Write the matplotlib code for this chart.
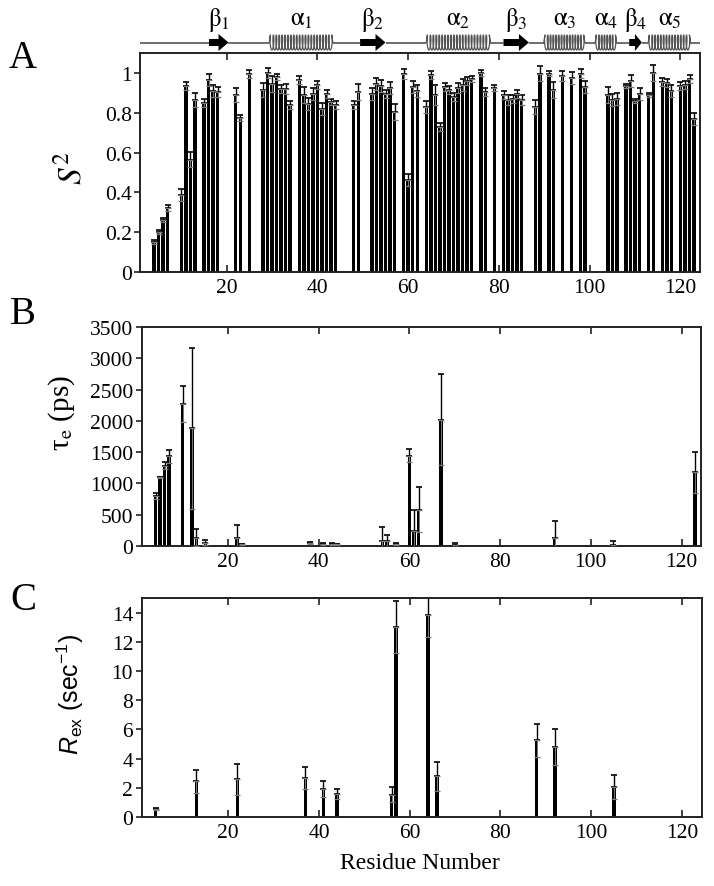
import matplotlib
matplotlib.use("Agg")
import matplotlib.pyplot as plt
import numpy as np
from matplotlib.patches import Polygon
from matplotlib.ticker import FormatStrFormatter

plt.rcParams['font.family'] = ['Liberation Serif', 'DejaVu Serif']
plt.rcParams['mathtext.fontset'] = 'stix'
plt.rcParams['mathtext.rm'] = 'Liberation Sans'
plt.rcParams['mathtext.it'] = 'Liberation Sans:italic'
plt.rcParams['mathtext.bf'] = 'Liberation Sans:bold'

# ---------------- data ----------------
# Panel A: order parameter S^2
s2_res = [4, 5, 6, 7, 10, 11, 12, 13, 15, 16, 17, 18, 22, 23, 25, 28, 29, 30, 31, 32,
          33, 34, 36, 37, 38, 39, 40, 41, 42, 43, 44, 48, 49, 52, 53, 54, 55, 56, 57, 59,
          60, 61, 62, 64, 65, 66, 67, 68, 69, 70, 71, 72, 73, 74, 76, 77, 79, 81, 82, 83,
          84, 85, 88, 89, 91, 92, 94, 96, 98, 99, 104, 105, 106, 108, 109, 110, 111, 113, 114, 116,
          117, 118, 120, 121, 122, 123]
s2_val = [0.15, 0.20, 0.26, 0.32, 0.385, 0.935, 0.565, 0.866, 0.85, 0.966, 0.91, 0.905, 0.89, 0.774, 0.995, 0.916, 1.0, 0.946, 0.98, 0.92,
          0.92, 0.837, 0.962, 0.887, 0.846, 0.896, 0.938, 0.82, 0.896, 0.854, 0.837, 0.837, 0.904, 0.896, 0.943, 0.933, 0.896, 0.925, 0.804, 0.995,
          0.46, 0.93, 0.908, 0.83, 0.99, 0.887, 0.729, 0.93, 0.913, 0.88, 0.925, 0.941, 0.96, 0.968, 1.0, 0.904, 0.925, 0.887, 0.862, 0.87,
          0.896, 0.862, 0.83, 0.997, 0.997, 0.913, 0.983, 0.976, 0.997, 0.93, 0.887, 0.862, 0.87, 0.935, 0.958, 0.859, 0.893, 0.887, 1.0, 0.955,
          0.95, 0.908, 0.935, 0.941, 0.971, 0.77]
s2_err = [0.01, 0.01, 0.01, 0.015, 0.03, 0.02, 0.04, 0.035, 0.02, 0.03, 0.03, 0.025, 0.035, 0.015, 0.02, 0.035, 0.025, 0.04, 0.015, 0.02,
          0.025, 0.02, 0.02, 0.04, 0.03, 0.03, 0.02, 0.03, 0.02, 0.015, 0.02, 0.02, 0.04, 0.03, 0.03, 0.03, 0.02, 0.03, 0.04, 0.025,
          0.03, 0.03, 0.03, 0.03, 0.02, 0.05, 0.02, 0.02, 0.02, 0.02, 0.025, 0.03, 0.02, 0.015, 0.015, 0.02, 0.015, 0.02, 0.025, 0.02,
          0.02, 0.025, 0.035, 0.04, 0.015, 0.04, 0.025, 0.03, 0.025, 0.03, 0.04, 0.03, 0.03, 0.01, 0.03, 0.01, 0.03, 0.01, 0.04, 0.02,
          0.02, 0.03, 0.02, 0.02, 0.02, 0.03]

# Panel B: tau_e (ps)
te_res = [4, 5, 6, 7, 10, 12, 13, 15, 22, 23, 38, 41, 43, 44, 54, 55, 57, 60, 61, 62, 67, 70, 92, 105, 123]
te_val = [800, 1095, 1282, 1432, 2271, 1881, 134, 53, 134, 27, 50, 30, 30, 25, 80, 80, 25, 1443, 240, 577, 2020, 20, 134, 20, 1176]
te_err = [55, 10, 54, 102, 294, 1282, 133, 38, 203, 5, 20, 10, 10, 10, 225, 96, 15, 107, 337, 358, 721, 33, 261, 60, 331]

# Panel C: R_ex (sec^-1)
rex_res = [4, 13, 22, 37, 41, 44, 56, 57, 64, 66, 88, 92, 105]
rex_val = [0.55, 2.44, 2.58, 2.67, 1.9, 1.6, 1.53, 13.0, 13.86, 2.79, 5.25, 4.82, 2.05]
rex_err = [0.07, 0.8, 1.05, 0.75, 0.54, 0.34, 0.5, 1.77, 1.5, 0.98, 1.14, 1.23, 0.85]

# Secondary structure
ss_type = ['b', 'a', 'b', 'a', 'b', 'a', 'a', 'b', 'a']
ss_start = [16.1, 29.4, 49.4, 64.0, 81.0, 89.9, 101.2, 108.7, 112.9]
ss_end = [20.4, 43.4, 55.0, 78.1, 86.6, 98.9, 105.9, 111.5, 122.2]
ss_label = [r'$\mathrm{\beta}_1$', r'$\mathrm{\alpha}_1$', r'$\mathrm{\beta}_2$', r'$\mathrm{\alpha}_2$',
            r'$\mathrm{\beta}_3$', r'$\mathrm{\alpha}_3$', r'$\mathrm{\alpha}_4$', r'$\mathrm{\beta}_4$',
            r'$\mathrm{\alpha}_5$']

xticks = [20, 40, 60, 80, 100, 120]

# ---------------- figure ----------------
W, H = 714, 887
fig = plt.figure(figsize=(W / 100, H / 100), dpi=100)


def ax_px(l, t, r, b):
    return fig.add_axes([l / W, 1 - b / H, (r - l) / W, (b - t) / H])


XLIM = (0.9, 124.3)
bar_w = 0.76
spine_c = '#222222'
tick_fs = 15.5


def style(ax):
    ax.set_xlim(*XLIM)
    ax.set_xticks(xticks)
    for s in ax.spines.values():
        s.set_color(spine_c)
        s.set_linewidth(1.4)
    ax.tick_params(axis='x', direction='in', top=True, length=5, width=1.2,
                   labelsize=tick_fs, colors=spine_c, labelcolor='black', pad=4)
    ax.tick_params(axis='y', direction='out', length=4, width=1.2,
                   labelsize=tick_fs, colors=spine_c, labelcolor='black', pad=2)


def bars(ax, res, val, err, cap=3):
    res = np.asarray(res, float)
    val = np.asarray(val, float)
    err = np.asarray(err, float)
    ax.bar(res, val, width=bar_w, color='black', edgecolor='none', zorder=2)
    ax.errorbar(res, val, yerr=[np.zeros_like(err), err], fmt='none', ecolor='black',
                elinewidth=1.0, capsize=cap, capthick=1.2, zorder=3)
    ax.errorbar(res, val, yerr=[err, np.zeros_like(err)], fmt='none', ecolor='#7a7a7a',
                elinewidth=0.7, capsize=cap, capthick=0.9, zorder=3)


# Panel A
axA = ax_px(140, 54, 700, 273)
bars(axA, s2_res, s2_val, s2_err, cap=2.5)
style(axA)
axA.set_ylim(0, 1.1)
axA.set_yticks([0, 0.2, 0.4, 0.6, 0.8, 1.0])
axA.yaxis.set_major_formatter(FormatStrFormatter('%g'))
fig.text(72 / W, 1 - 168 / H, r'$S^2$', fontsize=24, rotation=90, ha='center', va='center')

# Panel B
axB = ax_px(141.5, 328, 701, 547)
bars(axB, te_res, te_val, te_err, cap=2.5)
style(axB)
axB.set_ylim(0, 3500)
axB.set_yticks(np.arange(0, 3501, 500))
fig.text(62 / W, 1 - 413 / H, r'τ$_{\mathrm{e}}$ (ps)', fontsize=21, rotation=90,
         ha='center', va='center')

# Panel C
axC = ax_px(141.5, 599, 701.5, 818)
bars(axC, rex_res, rex_val, rex_err, cap=2.5)
style(axC)
axC.set_ylim(0, 15)
axC.set_yticks(np.arange(0, 15, 2))
fig.text(70 / W, 1 - 694 / H, r'$R_{\mathrm{ex}}$ (sec$^{\mathrm{-1}}$)', fontsize=18, rotation=90,
         ha='center', va='center', family=['Liberation Sans', 'DejaVu Sans'],
         math_fontfamily='custom')
fig.text(420 / W, 1 - 864 / H, 'Residue Number', fontsize=17, ha='center', va='center')

# Panel letters
for letter, y in [('A', 58), ('B', 315), ('C', 600)]:
    fig.text(23 / W, 1 - y / H, letter, fontsize=28, ha='center', va='center')

# Secondary-structure header
axS = ax_px(140, 0, 700, 54)
axS.set_xlim(*XLIM)
axS.set_ylim(54, 0)
axS.axis('off')
yl = 43.5
edges = [XLIM[0]] + [v for pair in zip(ss_start, ss_end) for v in pair] + [XLIM[1]]
for i in range(0, len(edges), 2):
    axS.plot([edges[i], edges[i + 1]], [yl, yl], color='#555555', lw=1.2,
             solid_capstyle='butt', clip_on=False)
for typ, s, e, lab in zip(ss_type, ss_start, ss_end, ss_label):
    if typ == 'b':
        hl = min(2.2, (e - s) * 0.55)
        xh = e - hl
        pts = [(s, yl - 3.5), (xh, yl - 3.5), (xh, yl - 8.5), (e, yl), (xh, yl + 8.5),
               (xh, yl + 3.5), (s, yl + 3.5)]
        axS.add_patch(Polygon(pts, closed=True, color='black', lw=0, clip_on=False))
    else:
        n_loops = max(3, int(round((e - s) / 0.66)))
        t = np.linspace(0, 2 * np.pi * n_loops, n_loops * 40)
        pitch = (e - s - 0.5) / (2 * np.pi * n_loops)
        xs = s + 0.25 + pitch * t - 0.25 * np.sin(t)
        ys = yl - 7.5 * np.cos(t)
        xs = np.concatenate([[s], xs, [e]])
        ys = np.concatenate([[yl], ys, [yl]])
        axS.plot(xs, ys, color='#555555', lw=0.9, clip_on=False)
    axS.text((s + e) / 2, 20, lab, fontsize=18, ha='center', va='center')

fig.savefig('out.png', dpi=100)
